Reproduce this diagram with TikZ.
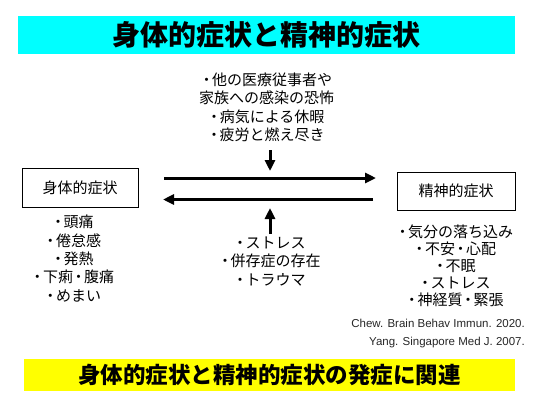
\documentclass[tikz,border=0pt]{standalone}
\usepackage{fontspec}
\usepackage{xcolor}
\usepackage{tikz}
\usetikzlibrary{arrows.meta}
\newfontfamily\jpfont{Noto Sans CJK JP}
\newfontfamily\citefont{Liberation Sans}
\definecolor{titlecyan}{HTML}{00FFFF}
\definecolor{noteyellow}{HTML}{FFFF00}
\newcommand{\mdot}{\hspace{-0.13em}・\hspace{-0.13em}}
\tikzset{
  every picture/.append style={font=\jpfont},
  bar/.style={inner sep=0pt,draw=none,text=black},
  symbox/.style={draw=black,line width=0.9pt,inner sep=0pt},
  notes/.style={align=center,inner sep=0pt,font={\jpfont\fontsize{15}{18.5}\selectfont}},
  bigarrow/.style={line width=3pt,-{Triangle[length=11pt,width=10pt]}}
}

\begin{document}
\begin{tikzpicture}[x=1pt,y=-1pt]
    \useasboundingbox (0,0) rectangle (537,400);
    % title bar
    \node[bar,fill=titlecyan,minimum width=497pt,minimum height=38pt,
      font={\jpfont\bfseries\fontsize{28}{30}\selectfont}] (title) at (266.5,35) {身体的症状と精神的症状};
    % the two boxes
    \node[symbox,minimum width=116pt,minimum height=39pt,
      font={\jpfont\fontsize{15}{18}\selectfont}] (physbox) at (80,187.5) {身体的症状};
    \node[symbox,minimum width=118pt,minimum height=38pt,
      font={\jpfont\fontsize{15}{18}\selectfont}] (mentbox) at (456,191) {精神的症状};
    % lists under the boxes
    \node[notes,font={\jpfont\fontsize{15}{18.3}\selectfont}] (physlist) at (73,258.5)
      {\mdot 頭痛\\\mdot 倦怠感\\\mdot 発熱\\\mdot 下痢\mdot 腹痛\\\mdot めまい};
    \node[notes,font={\jpfont\fontsize{15}{17}\selectfont}] (mentlist) at (455,266)
      {\mdot 気分の落ち込み\\\mdot 不安\mdot 心配\\\mdot 不眠\\\mdot ストレス\\\mdot 神経質\mdot 緊張};
    % factors above and below
    \node[notes] (topnote) at (266.5,107.5)
      {\mdot 他の医療従事者や\\家族への感染の恐怖\\\mdot 病気による休暇\\\mdot 疲労と燃え尽き};
    \node[notes] (lownote) at (270,261.5)
      {\mdot ストレス\\\mdot 併存症の存在\\\mdot トラウマ};
    % arrows
    \coordinate (rtail) at (164,178);
    \coordinate (rhead) at (376,178);
    \coordinate (ltail) at (373,199.5);
    \coordinate (lhead) at (163,199.5);
    \coordinate (dtail) at (270,150);
    \coordinate (dhead) at (270,171);
    \coordinate (utail) at (270,234);
    \coordinate (uhead) at (270,208);
    \draw[bigarrow] (rtail) -- (rhead);
    \draw[bigarrow] (ltail) -- (lhead);
    \draw[bigarrow] (dtail) -- (dhead);
    \draw[bigarrow] (utail) -- (uhead);
    % references
    \node[anchor=east,align=right,inner sep=0pt,
      font={\citefont\fontsize{11.5}{18}\selectfont},text=black!85] (refs) at (525,334)
      {Chew. Brain Behav Immun. 2020.\\Yang. Singapore Med J. 2007.};
    % bottom bar
    \node[bar,fill=noteyellow,minimum width=491pt,minimum height=32pt,
      font={\jpfont\bfseries\fontsize{22.5}{24}\selectfont}] (summary) at (269.5,375) {身体的症状と精神的症状の発症に関連};
  \end{tikzpicture}
\end{document}
